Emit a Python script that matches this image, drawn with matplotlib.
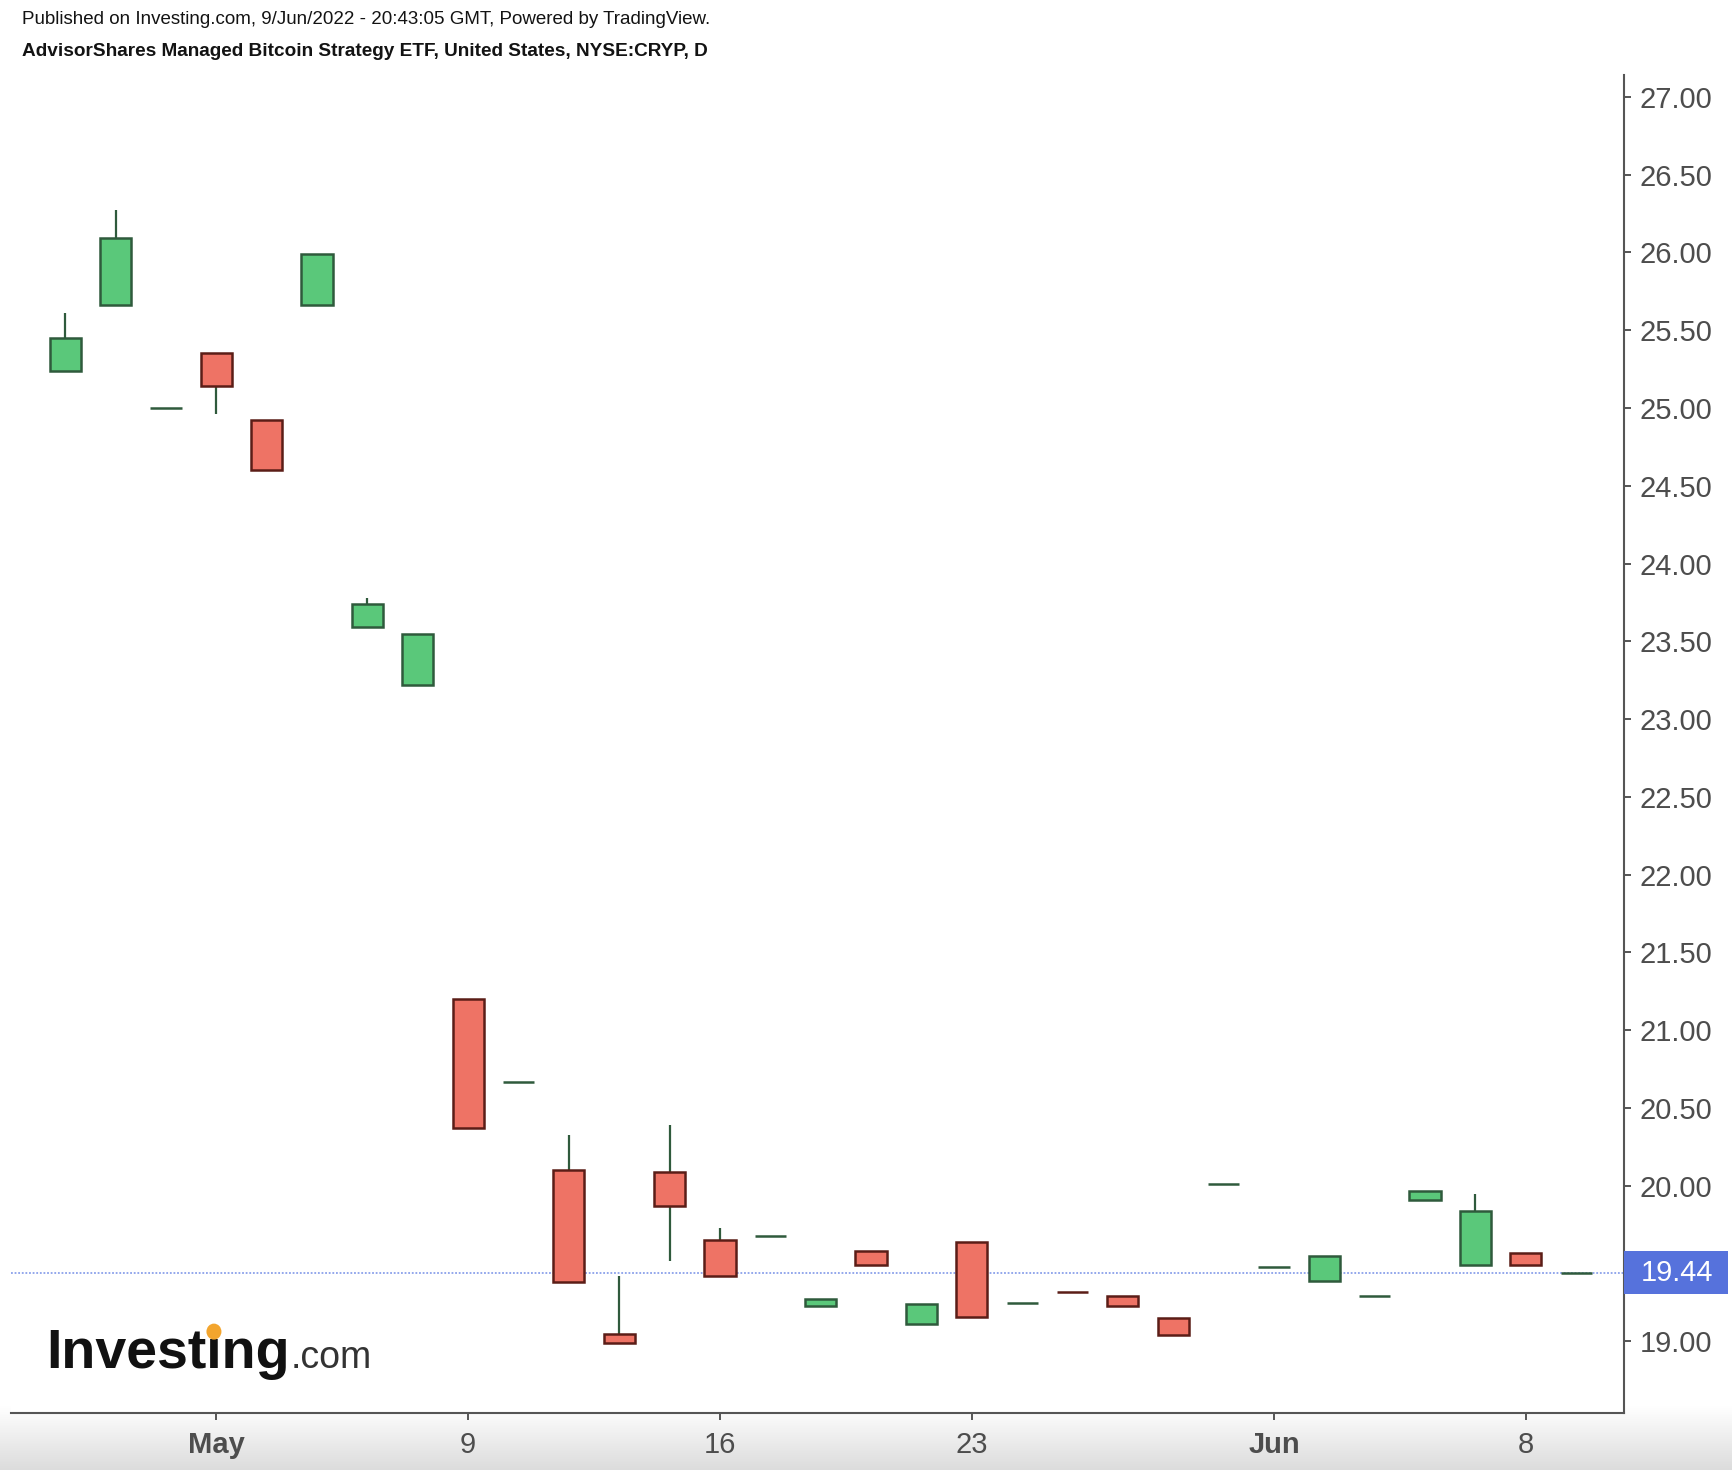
import matplotlib
matplotlib.use('Agg')
import matplotlib.pyplot as plt
import numpy as np
from matplotlib.patches import Rectangle, Ellipse
from matplotlib.transforms import blended_transform_factory
from matplotlib.colors import LinearSegmentedColormap
from matplotlib.ticker import FixedLocator, FormatStrFormatter

plt.rcParams['font.family'] = ['Liberation Sans', 'DejaVu Sans']

# Datos diarios CRYP (27 abr - 9 jun 2022)
dates = ['Apr 27', 'Apr 28', 'Apr 29', 'May 2', 'May 3', 'May 4', 'May 5', 'May 6',
         'May 9', 'May 10', 'May 11', 'May 12', 'May 13', 'May 16', 'May 17', 'May 18',
         'May 19', 'May 20', 'May 23', 'May 24', 'May 25', 'May 26', 'May 27', 'May 31',
         'Jun 1', 'Jun 2', 'Jun 3', 'Jun 6', 'Jun 7', 'Jun 8', 'Jun 9']
opens = [25.24, 25.66, 25.00, 25.35, 24.92, 25.66, 23.59, 23.22, 21.20, 20.67, 20.10,
         19.05, 20.09, 19.65, 19.68, 19.23, 19.58, 19.11, 19.64, 19.25, 19.32, 19.29,
         19.15, 20.01, 19.48, 19.39, 19.29, 19.91, 19.49, 19.57, 19.44]
closes = [25.45, 26.09, 25.00, 25.14, 24.60, 25.99, 23.74, 23.55, 20.37, 20.67, 19.38,
          18.99, 19.87, 19.42, 19.68, 19.27, 19.49, 19.24, 19.16, 19.25, 19.318, 19.23,
          19.04, 20.01, 19.48, 19.55, 19.29, 19.97, 19.84, 19.49, 19.44]
highs = [25.61, 26.27, 25.00, 25.35, 24.92, 25.99, 23.78, 23.55, 21.20, 20.67, 20.33,
         19.42, 20.39, 19.73, 19.68, 19.27, 19.58, 19.24, 19.64, 19.25, 19.32, 19.29,
         19.15, 20.01, 19.48, 19.55, 19.29, 19.97, 19.95, 19.57, 19.44]
lows = [25.24, 25.66, 25.00, 24.96, 24.60, 25.66, 23.59, 23.22, 20.37, 20.67, 19.38,
        18.99, 19.52, 19.42, 19.68, 19.23, 19.49, 19.11, 19.16, 19.25, 19.318, 19.23,
        19.04, 20.01, 19.48, 19.39, 19.29, 19.91, 19.49, 19.49, 19.44]

tick_idx = [3, 8, 13, 18, 24, 29]
tick_labels = ['May', '9', '16', '23', 'Jun', '8']
bold_labels = ['May', 'Jun']
price_ticks = [19.0, 20.0, 20.5, 21.0, 21.5, 22.0, 22.5, 23.0, 23.5, 24.0,
               24.5, 25.0, 25.5, 26.0, 26.5, 27.0]
last_price = 19.44

W, H = 1732, 1470
fig = plt.figure(figsize=(W / 100, H / 100), dpi=100)

# degradado gris en la parte inferior
bg = fig.add_axes([0, 0, 1, 64 / H], zorder=0)
grad = np.linspace(0, 1, 100).reshape(-1, 1)
cmap_bg = LinearSegmentedColormap.from_list('bg', ['#dcdcdc', '#ffffff'])
bg.imshow(grad, aspect='auto', cmap=cmap_bg, origin='lower', extent=[0, 1, 0, 1])
bg.axis('off')

ax = fig.add_axes([11 / W, 57 / H, (1624 - 11) / W, (1413 - 75) / H], zorder=1)

green, green_edge = '#5ac87a', '#2f5a3c'
red, red_edge = '#ee7365', '#5b1d17'
wick_col = '#2f5a3c'

x = np.arange(len(opens))
o = np.array(opens)
c = np.array(closes)
up = c >= o
body_lo = np.minimum(o, c)
body_h = np.abs(c - o)

ax.vlines(x, lows, highs, color=wick_col, lw=1.6, zorder=2)
ax.bar(x[up], body_h[up], bottom=body_lo[up], width=0.62, color=green,
       edgecolor=green_edge, linewidth=1.8, zorder=3)
ax.bar(x[~up], body_h[~up], bottom=body_lo[~up], width=0.62, color=red,
       edgecolor=red_edge, linewidth=1.8, zorder=3)

# linea del ultimo precio
ax.axhline(last_price, color='#8aa0ea', lw=1.3, ls=(0, (1, 1)), zorder=1)

ax.set_xlim(-1.076, 30.95)
ax.set_ylim(18.54, 27.14)

ax.xaxis.set_major_locator(FixedLocator(tick_idx))
ax.set_xticklabels(tick_labels)
for lbl in ax.get_xticklabels():
    if lbl.get_text() in bold_labels:
        lbl.set_fontweight('bold')

ax.yaxis.tick_right()
ax.yaxis.set_major_locator(FixedLocator(price_ticks))
ax.yaxis.set_major_formatter(FormatStrFormatter('%.2f'))

ax.tick_params(axis='both', colors='#555555', labelcolor='#4d4d4d', labelsize=21,
               length=5, width=1.4)
ax.tick_params(axis='y', pad=6)
ax.tick_params(axis='x', pad=8)

for side in ['left', 'top']:
    ax.spines[side].set_visible(False)
for side in ['right', 'bottom']:
    ax.spines[side].set_color('#555555')
    ax.spines[side].set_linewidth(1.5)

# etiqueta del ultimo precio
trans = blended_transform_factory(ax.transAxes, ax.transData)
box_w = 104 / 1613
box_h = 43 / 155.6
ax.add_patch(Rectangle((1.0, last_price - box_h / 2), box_w, box_h, transform=trans,
                       facecolor='#5672dc', edgecolor='none', clip_on=False, zorder=5))
ax.text(1.0 + 17 / 1613, last_price, f'{last_price:.2f}', transform=trans, color='white',
        fontsize=21, va='center', ha='left', clip_on=False, zorder=6)

# cabecera
fig.text(22 / W, 1 - 20 / H, 'Published on Investing.com, 9/Jun/2022 - 20:43:05 GMT, Powered by TradingView.',
         fontsize=13.5, color='#131313', va='center', ha='left')
fig.text(22 / W, 1 - 51 / H, 'AdvisorShares Managed Bitcoin Strategy ETF, United States, NYSE:CRYP, D',
         fontsize=13.7, fontweight='bold', color='#131313', va='center', ha='left')

# logo Investing.com
renderer = fig.canvas.get_renderer()
logo_x, logo_base = 46, 1368
t1 = fig.text(logo_x / W, 1 - logo_base / H, 'Investing', fontsize=40, fontweight='bold',
              color='#111111', va='baseline', ha='left', zorder=10)
bb = t1.get_window_extent(renderer)
fig.text((bb.x1 + 1) / W, 1 - logo_base / H, '.com', fontsize=27, color='#333333',
         va='baseline', ha='left', zorder=10)
tmp = fig.text(logo_x / W, 1 - logo_base / H, 'Invest', fontsize=40, fontweight='bold', va='baseline')
w_prefix = tmp.get_window_extent(renderer).width
tmp.remove()
tmp = fig.text(logo_x / W, 1 - logo_base / H, 'i', fontsize=40, fontweight='bold', va='baseline')
w_i = tmp.get_window_extent(renderer).width
tmp.remove()
dot_x = logo_x + w_prefix + w_i / 2
dot_y = (H - logo_base) + 0.655 * 40 * 100 / 72
fig.add_artist(Ellipse((dot_x / W, dot_y / H), 15 / W, 16 / H, angle=0,
                       facecolor='#f3a52e', edgecolor='none', zorder=11))

fig.savefig('out.png', dpi=100)
